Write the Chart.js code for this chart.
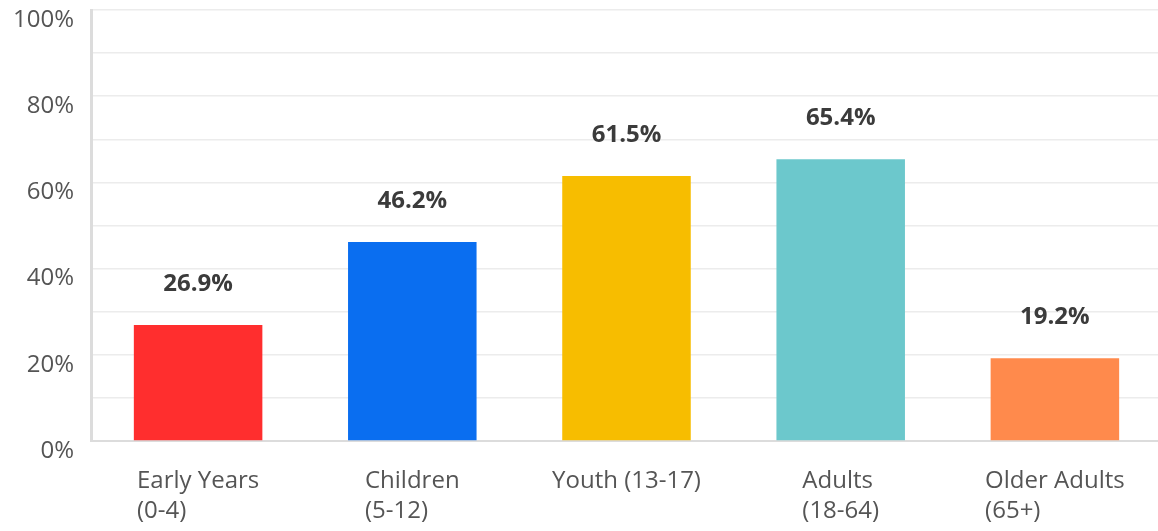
<!DOCTYPE html>
<html>
<head>
<meta charset="utf-8">
<script src="https://cdn.jsdelivr.net/npm/chart.js@4"></script>
<style>
  html, body { margin: 0; padding: 0; background: #fff; overflow: hidden; }
  #wrap { width: 1162px; height: 531px; }
</style>
</head>
<body>
<div id="wrap"><canvas id="myChart"></canvas></div>
<script>
// data
const categories = [["Early Years", "(0-4)"], ["Children", "(5-12)"], ["Youth (13-17)"], ["Adults", "(18-64)"], ["Older Adults", "(65+)"]];
const percentValues = [26.9, 46.2, 61.5, 65.4, 19.2];
const barColors = ["rgb(255, 46, 46)", "rgb(10, 110, 240)", "rgb(247, 189, 0)", "rgb(108, 200, 204)", "rgb(255, 138, 76)"];
const yTicks = [0, 20, 40, 60, 80, 100];

const FONT = "'Open Sans', sans-serif";

// value labels above bars
const valueLabels = {
  id: "valueLabels",
  afterDatasetsDraw(chart) {
    const ctx = chart.ctx;
    const meta = chart.getDatasetMeta(0);
    ctx.save();
    ctx.font = "bold 24px " + FONT;
    ctx.fillStyle = "#3b3b3b";
    ctx.textAlign = "center";
    ctx.textBaseline = "middle";
    meta.data.forEach((bar, i) => {
      ctx.fillText(percentValues[i].toFixed(1) + "%", bar.x, bar.y - 41);
    });
    ctx.restore();
  },
};

// x labels: block centred under bar, lines left aligned
const xLabels = {
  id: "xLabels",
  afterDraw(chart) {
    const ctx = chart.ctx;
    const xScale = chart.scales.x;
    ctx.save();
    ctx.font = "24px " + FONT;
    ctx.fillStyle = "#555";
    ctx.textAlign = "left";
    ctx.textBaseline = "middle";
    categories.forEach((lines, i) => {
      const cx = xScale.getPixelForValue(i);
      const w = Math.max(...lines.map((l) => ctx.measureText(l).width));
      lines.forEach((l, j) => {
        ctx.fillText(l, cx - w / 2, xScale.top + 40 + j * 30);
      });
    });
    ctx.restore();
  },
};

const data = {
  labels: categories,
  datasets: [
    {
      data: percentValues,
      backgroundColor: barColors,
      borderWidth: 0,
      barPercentage: 0.6,
      categoryPercentage: 1,
    },
  ],
};

const config = {
  type: "bar",
  data,
  options: {
    responsive: true,
    maintainAspectRatio: false,
    animation: false,
    layout: { padding: { top: 10, right: 0, left: 0, bottom: 0 } },
    plugins: {
      legend: { display: false },
      tooltip: { enabled: false },
    },
    scales: {
      x: {
        grid: { display: false },
        border: { color: "#dcdcdc", width: 2 },
        ticks: { display: false },
        afterFit(scale) {
          scale.height = 90;
          scale.paddingLeft = 0;
          scale.paddingRight = 0;
        },
      },
      y: {
        min: 0,
        max: 100,
        grid: { color: "#ececec", lineWidth: 1.5, drawTicks: false },
        border: { color: "#dcdcdc", width: 3 },
        ticks: {
          stepSize: 10,
          padding: 17,
          labelOffset: 10,
          color: "#555",
          font: { family: FONT, size: 24 },
          callback: (v) => (yTicks.includes(v) ? v + "%" : ""),
        },
        afterFit(scale) {
          scale.width = 91;
          scale.paddingTop = 0;
          scale.paddingBottom = 0;
        },
      },
    },
  },
  plugins: [valueLabels, xLabels],
};

const myChart = new Chart(document.getElementById("myChart"), config);
</script>
</body>
</html>
